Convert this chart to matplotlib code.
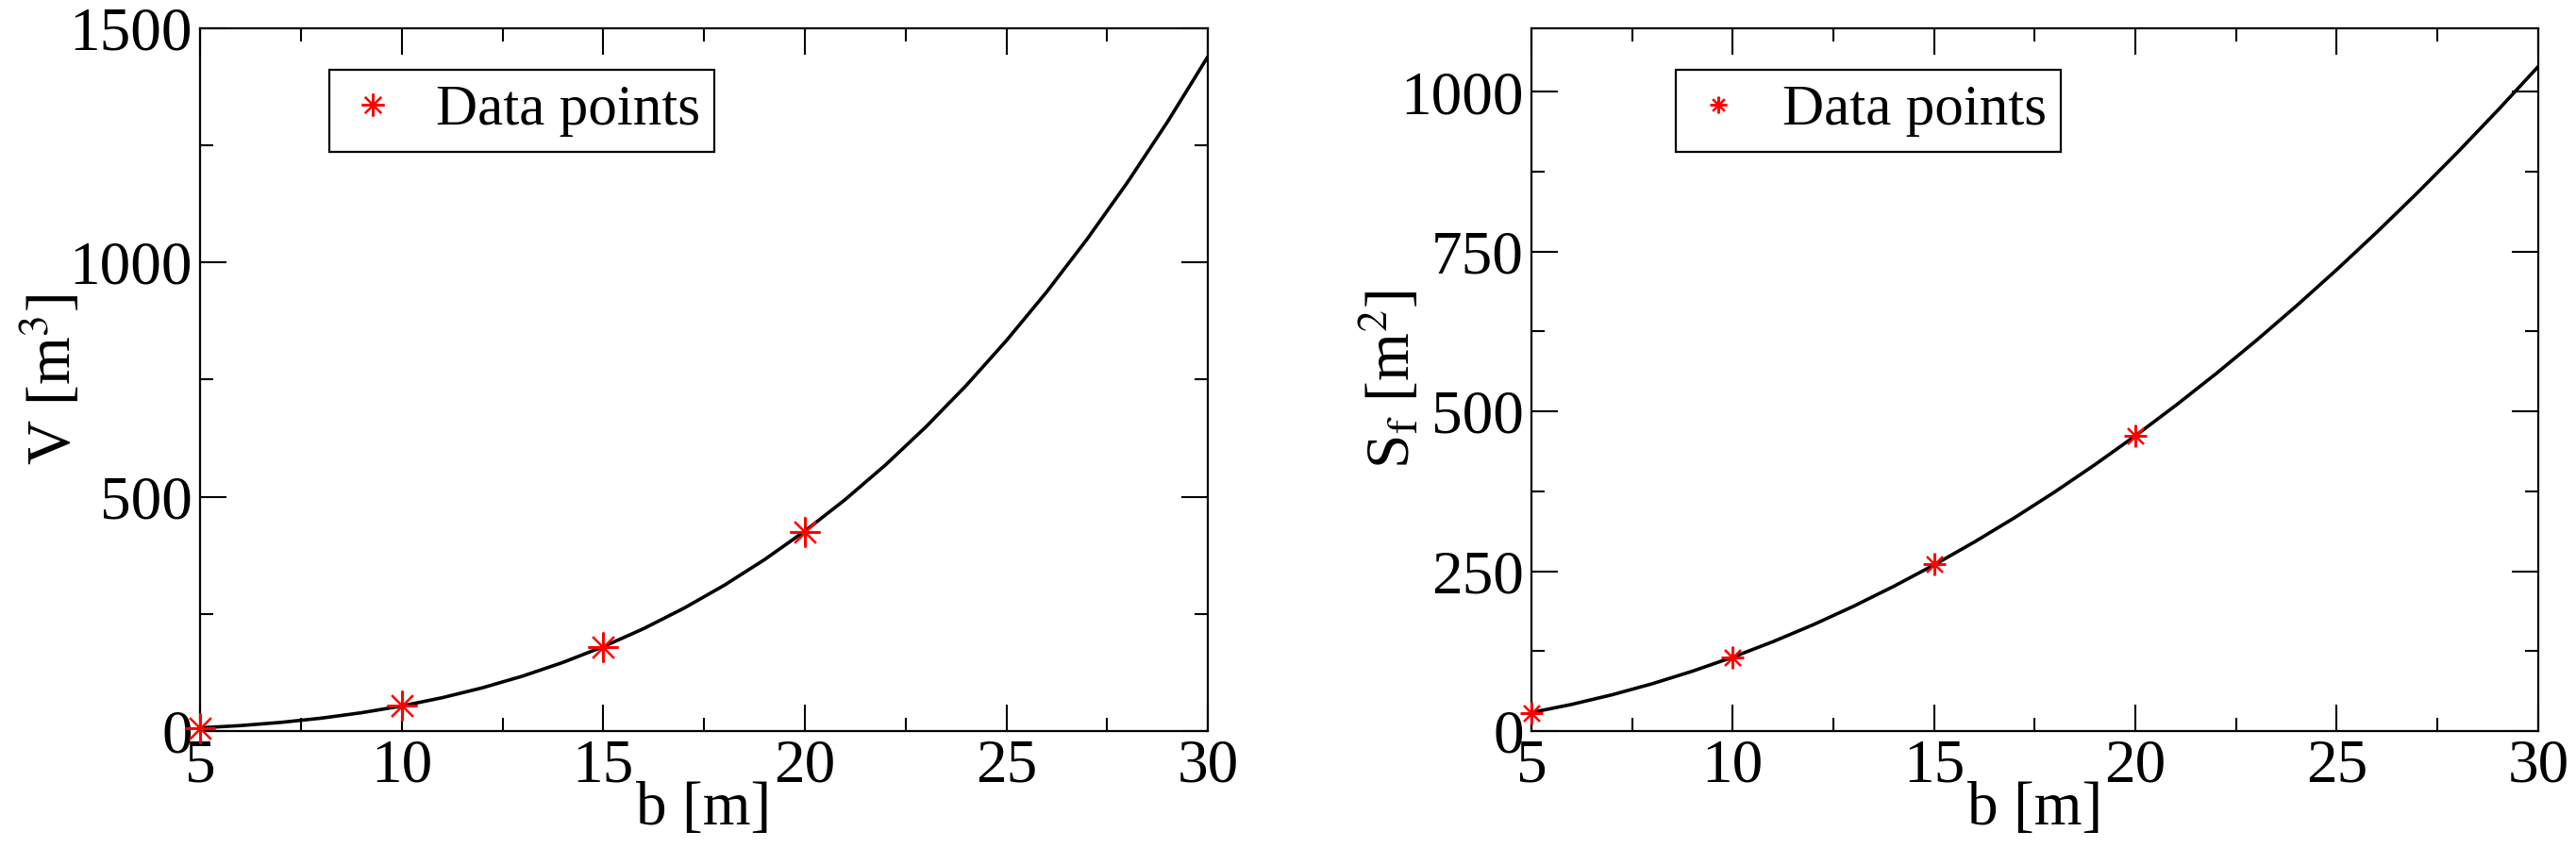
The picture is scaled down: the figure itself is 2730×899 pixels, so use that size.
import numpy as np
import matplotlib
matplotlib.use("Agg")
import matplotlib.pyplot as plt
from matplotlib.ticker import MultipleLocator

plt.rcParams["font.family"] = ["Liberation Serif", "DejaVu Serif"]
plt.rcParams["mathtext.fontset"] = "stix"

# data points
b_pts = [5, 10, 15, 20]
V_pts = [6, 54, 180, 425]
S_pts = [28, 115, 261, 462]

# fitted curves, sampled at integer b
b_curve = list(range(5, 31))
V_curve = [6.7, 11.5, 18.3, 27.3, 38.9, 53.3, 70.9, 92.1, 117.1, 146.3, 179.9,
           218.3, 261.9, 310.8, 365.6, 426.4, 493.6, 567.5, 648.5, 736.8,
           832.8, 936.8, 1049.1, 1170.0, 1299.9, 1439.1]
S_curve = [28.9, 41.6, 56.6, 73.9, 93.6, 115.5, 139.8, 166.3, 195.2, 226.4,
           259.9, 295.7, 333.8, 374.2, 417.0, 462.0, 509.4, 559.0, 611.0,
           665.3, 721.9, 780.8, 842.0, 905.5, 971.4, 1039.5]

fs = 47
star = (8, 2, 0)

fig = plt.figure(figsize=(27.3, 8.99), dpi=100)
ax1 = fig.add_axes([0.0777, 0.138, 0.3912, 0.829])
ax2 = fig.add_axes([0.5945, 0.138, 0.3908, 0.829])

panels = [
    (ax1, V_curve, V_pts, (0, 1500), 500, 250, r"V [m$^{3}$]", 23, 0.128, -0.115),
    (ax2, S_curve, S_pts, (0, 1100), 250, 125, r"S$_{\rm f}$ [m$^{2}$]", 17, 0.143, -0.108),
]
for ax, curve, pts, ylim, ymaj, ymin, ylab, ms, legx, labx in panels:
    ax.plot(b_curve, curve, color="black", lw=2.6, zorder=2)
    ax.plot(b_pts, pts, ls="none", marker=star, ms=ms, mew=1.6,
            color="red", label="Data points", zorder=3, clip_on=False)
    ax.set_xlim(5, 30)
    ax.set_ylim(*ylim)
    ax.xaxis.set_major_locator(MultipleLocator(5))
    ax.xaxis.set_minor_locator(MultipleLocator(2.5))
    ax.yaxis.set_major_locator(MultipleLocator(ymaj))
    ax.yaxis.set_minor_locator(MultipleLocator(ymin))
    ax.tick_params(which="both", direction="in", top=True, right=True,
                   width=1.5, labelsize=fs, pad=6)
    ax.tick_params(which="major", length=20)
    ax.tick_params(which="minor", length=10)
    for sp in ax.spines.values():
        sp.set_linewidth(1.6)
    ax.set_xlabel("b [m]", fontsize=fs, labelpad=-10)
    ax.set_ylabel(ylab, fontsize=fs)
    ax.yaxis.set_label_coords(labx, 0.5)
    leg = ax.legend(loc="upper left", bbox_to_anchor=(legx, 0.94),
                    fontsize=fs - 3, fancybox=False, framealpha=1,
                    edgecolor="black", handlelength=1.0, handletextpad=0.6,
                    borderpad=0.25, borderaxespad=0, markerscale=0.75)
    leg.get_frame().set_linewidth(1.6)

fig.savefig("out.png", dpi=100)
